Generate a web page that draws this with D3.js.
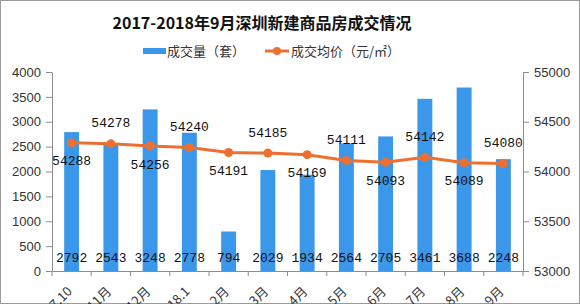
<!DOCTYPE html>
<html>
<head>
<meta charset="utf-8">
<script src="https://cdn.jsdelivr.net/npm/d3@7"></script>
<style>
  body { margin: 0; background: #fff; }
  svg { display: block; }
</style>
</head>
<body>
<div id="chart"></div>
<script>
// data
var months = ["17.10", "11月", "12月", "18.1", "2月", "3月", "4月", "5月", "6月", "7月", "8月", "9月"];
var volume = [2792, 2543, 3248, 2778, 794, 2029, 1934, 2564, 2705, 3461, 3688, 2248];
var price = [54288, 54278, 54256, 54240, 54191, 54185, 54169, 54111, 54093, 54142, 54089, 54080];
var leftTicks = [0, 500, 1000, 1500, 2000, 2500, 3000, 3500, 4000];
var rightTicks = [53000, 53500, 54000, 54500, 55000];

var width = 580, height = 304;
var barColor = "#3b97ea";
var lineColor = "#ed7031";
var monoFont = "'Liberation Mono', 'DejaVu Sans Mono', monospace";

var svg = d3.select("#chart").append("svg")
  .attr("width", width)
  .attr("height", height);

// frame
svg.append("rect")
  .attr("x", 0.5).attr("y", 0.5)
  .attr("width", width - 1).attr("height", height - 1)
  .attr("fill", "#fff").attr("stroke", "#9a9a9a");

var x = d3.scaleBand().domain(months).range([52, 523]).paddingInner(0.62).paddingOuter(0.31);
var xBand = d3.scaleBand().domain(months).range([52, 523]);
var yL = d3.scaleLinear().domain([0, 4000]).range([271, 72]);
var yR = d3.scaleLinear().domain([53000, 55000]).range([271, 72]);

// title
svg.append("text")
  .attr("x", 262).attr("y", 29)
  .attr("text-anchor", "middle")
  .attr("font-family", "'Noto Sans CJK SC', sans-serif")
  .attr("font-weight", "bold")
  .attr("font-size", 16)
  .attr("fill", "#111")
  .text("2017-2018年9月深圳新建商品房成交情况");

// legend
var lg = svg.append("g").attr("font-family", "'Noto Sans CJK SC', sans-serif").attr("font-size", 13).attr("fill", "#333");
lg.append("rect").attr("x", 143).attr("y", 48).attr("width", 23).attr("height", 6).attr("fill", barColor);
lg.append("text").attr("x", 167).attr("y", 56).text("成交量（套）");
lg.append("line").attr("x1", 265).attr("x2", 289).attr("y1", 51).attr("y2", 51)
  .attr("stroke", lineColor).attr("stroke-width", 3);
lg.append("circle").attr("cx", 277).attr("cy", 51).attr("r", 4).attr("fill", lineColor);
lg.append("text").attr("x", 291).attr("y", 56).text("成交均价（元/㎡）");

// bars
svg.append("g").selectAll("rect")
  .data(volume)
  .join("rect")
  .attr("x", (d, i) => x(months[i]))
  .attr("y", d => yL(d))
  .attr("width", x.bandwidth())
  .attr("height", d => yL(0) - yL(d))
  .attr("fill", barColor);

// axes
var axisColor = "#8c8c8c";
var leftAxis = svg.append("g")
  .attr("transform", "translate(52,0)")
  .call(d3.axisLeft(yL).tickValues(leftTicks).tickSize(6).tickSizeOuter(0).tickFormat(d3.format("d")));
var rightAxis = svg.append("g")
  .attr("transform", "translate(523,0)")
  .call(d3.axisRight(yR).tickValues(rightTicks).tickSize(6).tickSizeOuter(0).tickFormat(d3.format("d")));
var bottomAxis = svg.append("g")
  .attr("transform", "translate(0,271)")
  .call(d3.axisBottom(xBand).tickSize(0).tickSizeOuter(0));

[leftAxis, rightAxis, bottomAxis].forEach(function (a) {
  a.select(".domain").attr("stroke", axisColor);
  a.selectAll(".tick line").attr("stroke", axisColor);
  a.selectAll("text").attr("font-family", "'Liberation Sans', Arial, sans-serif")
    .attr("font-size", 13).attr("fill", "#333");
});
leftAxis.selectAll("text").attr("x", -11);
rightAxis.selectAll("text").attr("x", 11);

// bottom tick marks at band edges
var edges = [xBand.range()[0]].concat(months.map(m => xBand(m) + xBand.bandwidth()));
svg.append("g").selectAll("line")
  .data(edges)
  .join("line")
  .attr("x1", d => d)
  .attr("x2", d => d)
  .attr("y1", 271).attr("y2", 276)
  .attr("stroke", axisColor);

bottomAxis.selectAll(".tick text")
  .attr("text-anchor", "end")
  .attr("dy", "0.35em")
  .attr("y", 0)
  .attr("transform", "translate(-2,18) rotate(-45)")
  .attr("font-family", "'Noto Sans CJK SC', sans-serif")
  .attr("font-size", 13);

// line
var line = d3.line()
  .x((d, i) => xBand(months[i]) + xBand.bandwidth() / 2)
  .y(d => yR(d));

svg.append("path")
  .datum(price)
  .attr("d", line)
  .attr("fill", "none")
  .attr("stroke", lineColor)
  .attr("stroke-width", 3);

svg.append("g").selectAll("circle")
  .data(price)
  .join("circle")
  .attr("cx", (d, i) => xBand(months[i]) + xBand.bandwidth() / 2)
  .attr("cy", d => yR(d))
  .attr("r", 4.5)
  .attr("fill", lineColor);

// price labels, alternating below / above
svg.append("g").selectAll("text")
  .data(price)
  .join("text")
  .attr("x", (d, i) => xBand(months[i]) + xBand.bandwidth() / 2)
  .attr("y", (d, i) => yR(d) + (i % 2 === 0 ? 18 : -21))
  .attr("dy", "0.35em")
  .attr("text-anchor", "middle")
  .attr("font-family", monoFont)
  .attr("font-size", 13)
  .attr("fill", "#111")
  .text(d => d);

// volume labels near the bottom
svg.append("g").selectAll("text")
  .data(volume)
  .join("text")
  .attr("x", (d, i) => xBand(months[i]) + xBand.bandwidth() / 2)
  .attr("y", 257)
  .attr("dy", "0.35em")
  .attr("text-anchor", "middle")
  .attr("font-family", monoFont)
  .attr("font-size", 13)
  .attr("fill", "#111")
  .text(d => d);
</script>
</body>
</html>
